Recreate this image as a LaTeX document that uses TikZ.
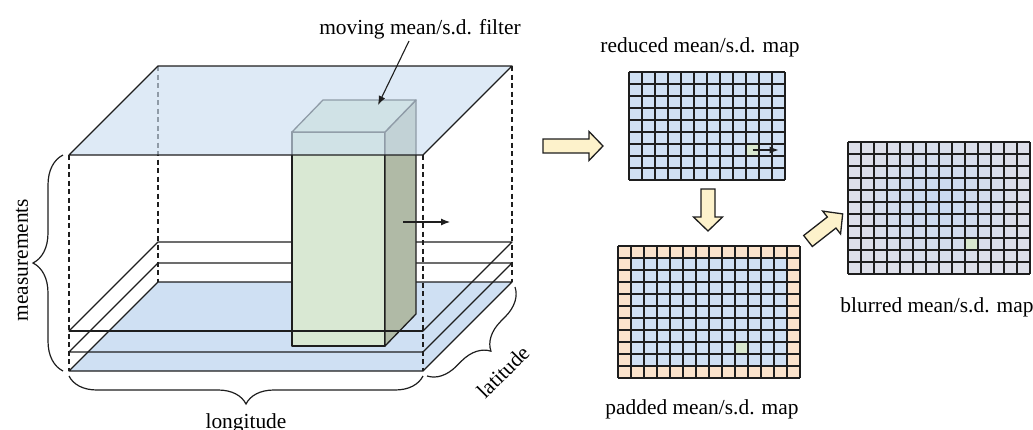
\documentclass[tikz,border=0pt]{standalone}
\usepackage{fontspec}
\setmainfont{Liberation Serif}
\usetikzlibrary{decorations.pathreplacing,arrows.meta}

\definecolor{topplane}{RGB}{204,223,241}
\definecolor{baseplane}{RGB}{207,224,243}
\definecolor{boxfront}{RGB}{217,232,211}
\definecolor{boxside}{RGB}{176,186,166}
\definecolor{cellblue}{RGB}{208,224,243}
\definecolor{cellpad}{RGB}{251,227,204}
\definecolor{cellgreen}{RGB}{217,232,207}
\definecolor{bluredge}{RGB}{221,223,233}
\definecolor{blurcore}{RGB}{199,217,242}
\definecolor{arrowfill}{RGB}{253,242,203}
\definecolor{ink}{RGB}{30,30,30}

\tikzset{
  edge/.style={draw=ink, line width=1.3pt, line join=round},
  guide/.style={draw=ink, line width=1.1pt, dash pattern=on 5pt off 3.5pt},
  gridline/.style={draw=ink, line width=1.2pt},
  lbl/.style={font=\fontsize{21.4pt}{25pt}\selectfont, inner sep=0pt},
  bracket/.style={draw=ink, line width=1.2pt, decorate,
    decoration={brace, amplitude=#1, aspect=0.5}},
  bracket/.default=28pt,
  pointer/.style={draw=ink, line width=1.1pt, -{Latex[length=9pt,width=7pt]}},
  % block arrow drawn from its tail centre; the argument is its length
  pics/blockarrow/.style={code={
    \filldraw[fill=arrowfill, draw=ink, line width=1.3pt, line join=miter]
      (0,-7) -- (#1-14,-7) -- (#1-14,-14.5) -- (#1,0) -- (#1-14,14.5)
      -- (#1-14,7) -- (0,7) -- cycle;
  }}
}

\begin{document}
\begin{tikzpicture}[x=1pt,y=-1pt]
\useasboundingbox (0,0) rectangle (1033,429);

% ---------- stacked measurement layers ----------
\coordinate (TFL) at (69,155);  \coordinate (TFR) at (423,155);
\coordinate (TBR) at (512,66);  \coordinate (TBL) at (158,66);
\coordinate (AFL) at (69,331);  \coordinate (AFR) at (423,331);
\coordinate (ABR) at (512,242); \coordinate (ABL) at (158,242);
\coordinate (CFL) at (69,352);  \coordinate (CFR) at (423,352);
\coordinate (CBR) at (512,263); \coordinate (CBL) at (158,263);
\coordinate (BFL) at (69,371);  \coordinate (BFR) at (423,371);
\coordinate (BBR) at (512,282); \coordinate (BBL) at (158,282);

% bottom layer
\fill[baseplane] (BFL) -- (BFR) -- (BBR) -- (BBL) -- cycle;
\draw[edge] (BFL) -- (BFR) -- (BBR) -- (BBL) -- cycle;

% vertical guides
\draw[guide] (TFL) -- (BFL);
\draw[guide] (TBL) -- (BBL);
\draw[guide] (TFR) -- (BFR);
\draw[guide] (TBR) -- (BBR);

% intermediate layers
\draw[edge] (AFL) -- (AFR) -- (ABR) -- (ABL) -- cycle;
\draw[edge] (CFL) -- (CFR) -- (CBR) -- (CBL) -- cycle;

% moving filter box
\coordinate (KFTL) at (292,132); \coordinate (KFTR) at (385,132);
\coordinate (KFBL) at (292,346); \coordinate (KFBR) at (385,346);
\coordinate (KBTL) at (323,100); \coordinate (KBTR) at (416,100);
\coordinate (KBBR) at (416,314);
\filldraw[fill=boxfront, edge] (KFTL) -- (KFTR) -- (KFBR) -- (KFBL) -- cycle;
\filldraw[fill=boxside, edge] (KFTR) -- (KBTR) -- (KBBR) -- (KFBR) -- cycle;
\filldraw[fill=boxfront, edge] (KFTL) -- (KBTL) -- (KBTR) -- (KFTR) -- cycle;

% front edge of the upper intermediate layer passes in front of the box
\draw[edge] (AFL) -- (AFR);

% top layer, translucent
\fill[topplane, opacity=0.65] (TFL) -- (TFR) -- (TBR) -- (TBL) -- cycle;
\draw[edge] (TFL) -- (TFR) -- (TBR) -- (TBL) -- cycle;

% direction of motion
\coordinate (moveA) at (403,222);
\coordinate (moveB) at (450,222);
\draw[pointer] (moveA) -- (moveB);

% filter label
\node[lbl, anchor=base] (filterlbl) at (420,34) {moving mean/s.d. filter};
\coordinate (filterfrom) at (409,41);
\coordinate (filterto) at (378,105);
\draw[pointer] (filterfrom) -- (filterto);

% braces and axis labels
\draw[bracket=30pt] (63,371) -- (63,155);
\node[lbl, rotate=90] (measlbl) at (22,260) {measurements};
\draw[bracket] (423,376) -- (69,376);
\node[lbl, anchor=base] (lonlbl) at (246,428) {longitude};
\draw[bracket] (515,287) -- (427,376);
\node[lbl, rotate=45] (latlbl) at (503,372) {latitude};

% ---------- reduced map ----------
\node[lbl, anchor=base] (redlbl) at (700,52) {reduced mean/s.d. map};
\begin{scope}[shift={(629,72)}, x=13pt, y=-12pt]
  \fill[cellblue] (0,0) rectangle (12,9);
  \fill[cellgreen] (9,6) rectangle (10,7);
  \foreach \i in {0,...,12} \draw[gridline] (\i,0) -- (\i,9);
  \foreach \j in {0,...,9} \draw[gridline] (0,\j) -- (12,\j);
  \coordinate (shiftA) at (9.5,6.5);
  \coordinate (shiftB) at (11.5,6.5);
\end{scope}
\draw[pointer] (shiftA) -- (shiftB);

% ---------- padded map ----------
\begin{scope}[shift={(618,246)}, x=13pt, y=-12pt]
  \fill[cellpad] (0,0) rectangle (14,11);
  \fill[cellblue] (1,1) rectangle (13,10);
  \fill[cellgreen] (9,8) rectangle (10,9);
  \foreach \i in {0,...,14} \draw[gridline] (\i,0) -- (\i,11);
  \foreach \j in {0,...,11} \draw[gridline] (0,\j) -- (14,\j);
\end{scope}
\node[lbl, anchor=base] (padlbl) at (702,414) {padded mean/s.d. map};

% ---------- blurred map ----------
\begin{scope}[shift={(848,142)}, x=13pt, y=-12pt]
  \foreach \i in {0,...,13} {
    \foreach \j in {0,...,10} {
      \pgfmathsetmacro{\du}{\i+0.5-7}
      \pgfmathsetmacro{\dv}{(\j+0.5-5)*1.1}
      \pgfmathtruncatemacro{\mixv}{max(0,100*(1-sqrt(\du*\du+\dv*\dv)/6.5))}
      \fill[blurcore!\mixv!bluredge] (\i,\j) rectangle ++(1,1);
    }
  }
  \fill[cellgreen] (9,8) rectangle (10,9);
  \foreach \i in {0,...,14} \draw[gridline] (\i,0) -- (\i,11);
  \foreach \j in {0,...,11} \draw[gridline] (0,\j) -- (14,\j);
\end{scope}
\node[lbl, anchor=base] (blurlbl) at (937,312) {blurred mean/s.d. map};

% ---------- process arrows ----------
\pic at (543,146) {blockarrow=60};
\pic[rotate=-90] at (708,189) {blockarrow=42};
\pic[rotate=38] at (808,241) {blockarrow=44};

\end{tikzpicture}
\end{document}
